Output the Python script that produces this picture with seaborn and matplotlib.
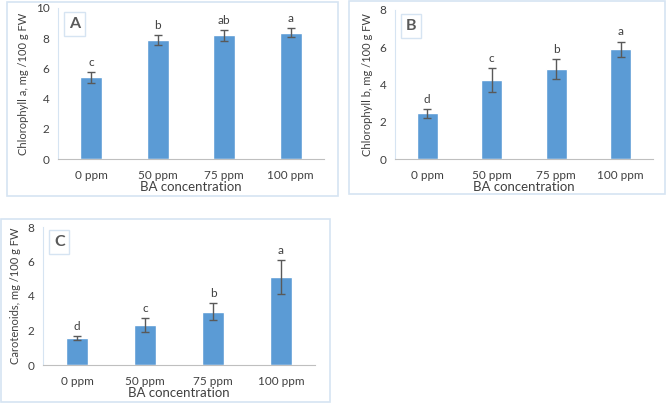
import numpy as np
import pandas as pd
import matplotlib
matplotlib.use("Agg")
import matplotlib.pyplot as plt
import seaborn as sns
from matplotlib.patches import Rectangle

# data
doses = ["0 ppm", "50 ppm", "75 ppm", "100 ppm"]
chl_a = [5.40, 7.88, 8.18, 8.36]
chl_a_err = [0.35, 0.35, 0.35, 0.31]
chl_a_letters = ["c", "b", "ab", "a"]
chl_b = [2.45, 4.23, 4.82, 5.89]
chl_b_err = [0.25, 0.64, 0.54, 0.41]
chl_b_letters = ["d", "c", "b", "a"]
carot = [1.55, 2.31, 3.10, 5.10]
carot_err = [0.12, 0.39, 0.51, 0.99]
carot_letters = ["d", "c", "b", "a"]

W, H = 669, 405
BAR = "#5B9BD5"
FRAME = "#D6E4F2"
TXT = "#404040"

sns.set_style("white")
plt.rcParams['font.family'] = ['Lato', 'DejaVu Sans']

fig = plt.figure(figsize=(W / 100, H / 100), dpi=100)


def px_rect(x0, y0, x1, y1):
    # pixel box (top-left origin) -> figure fraction [l, b, w, h]
    return [x0 / W, 1 - y1 / H, (x1 - x0) / W, (y1 - y0) / H]


def panel(axbox, framebox, letter, vals, errs, letters, ymax, ylabel):
    fb = px_rect(*framebox)
    fig.patches.append(Rectangle(fb[:2], fb[2], fb[3], transform=fig.transFigure,
                                 fill=False, edgecolor=FRAME, linewidth=1.2))
    ax = fig.add_axes(px_rect(*axbox))
    df = pd.DataFrame({"dose": doses, "value": vals})
    sns.barplot(data=df, x="dose", y="value", color=BAR, width=0.33,
                saturation=1, ax=ax)
    x = np.arange(len(doses))
    ax.errorbar(x, vals, yerr=errs, fmt="none", ecolor="#595959",
                elinewidth=1, capsize=3, capthick=1)
    for xi, v, e, lab in zip(x, vals, errs, letters):
        ax.annotate(lab, (xi, v + e), xytext=(0, 3), textcoords="offset points",
                    ha="center", va="bottom", fontsize=8.5, color=TXT)
    ax.set_ylim(0, ymax)
    ax.set_xlim(-0.5, 3.5)
    ax.set_yticks(np.arange(0, ymax + 0.1, 2))
    ax.tick_params(axis="both", length=0, labelsize=8.5, colors=TXT)
    ax.tick_params(axis="x", pad=8)
    ax.tick_params(axis="y", pad=6)
    ax.set_xlabel("BA concentration", fontsize=9.5, color=TXT, labelpad=0)
    ax.set_ylabel(ylabel, fontsize=8, color=TXT, labelpad=5)
    for s in ["top", "right"]:
        ax.spines[s].set_visible(False)
    ax.spines["left"].set_color(FRAME)
    ax.spines["bottom"].set_color("#BFBFBF")
    ax.text(0.04, 0.94, letter, transform=ax.transAxes, ha="left", va="top",
            fontsize=11.5, fontweight="bold", color="#595959",
            bbox=dict(boxstyle="square,pad=0.3", fc="white", ec=FRAME, lw=1))
    return ax


panel((58, 8, 324, 159), (7, 2, 338, 196), "A", chl_a, chl_a_err, chl_a_letters,
      10, "Chlorophyll a, mg /100 g FW")
panel((395, 10, 653, 159), (349, 1, 665, 194), "B", chl_b, chl_b_err, chl_b_letters,
      8, "Chlorophyll b, mg /100 g FW")
panel((43, 227, 315, 365), (1, 219, 330, 402), "C", carot, carot_err, carot_letters,
      8, "Carotenoids, mg /100 g FW")

fig.savefig("out.png", dpi=100)
